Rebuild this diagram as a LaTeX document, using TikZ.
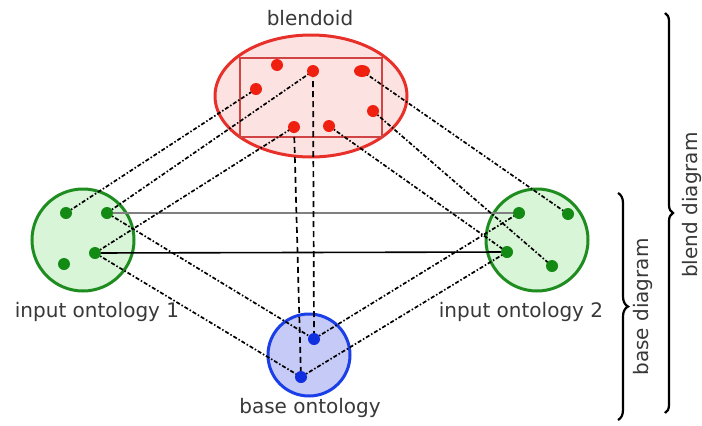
\documentclass[tikz,border=0pt]{standalone}
\usepackage{fontspec}
\setmainfont{DejaVu Sans}
\usetikzlibrary{decorations.pathreplacing,shapes.geometric}
\pgfdeclarelayer{back}
\pgfdeclarelayer{mid}
\pgfsetlayers{back,mid,main}
\definecolor{redline}{HTML}{E8302A}
\definecolor{redfill}{HTML}{FDE2E2}
\definecolor{reddot}{HTML}{F02010}
\definecolor{rectline}{HTML}{D04444}
\definecolor{greenline}{HTML}{1E8C1E}
\definecolor{greenfill}{HTML}{D8F5D8}
\definecolor{greendot}{HTML}{138A13}
\definecolor{blueline}{HTML}{1A3EE8}
\definecolor{bluefill}{HTML}{C6CAF6}
\definecolor{bluedot}{HTML}{1030E0}
\definecolor{txt}{HTML}{383838}
\begin{document}
\begin{tikzpicture}[x=1pt,y=-1pt,
  lbl/.style={text=txt,font=\fontsize{20}{24}\selectfont,inner sep=0pt},
  dotnode/.style={circle,inner sep=0pt,minimum size=12pt},
  rdot/.style={dotnode,fill=reddot},
  gdot/.style={dotnode,fill=greendot},
  bdot/.style={dotnode,fill=bluedot},
  link/.style={line width=1.7pt,dash pattern=on 4pt off 2pt on 1.5pt off 2pt},
  vlink/.style={line width=1.7pt,dash pattern=on 6pt off 4pt},
  bracestyle/.style={line width=2.2pt,decorate}]
\useasboundingbox (0,0) rectangle (702,426);
\begin{pgfonlayer}{back}
% blendoid
\draw[redline,fill=redfill,line width=3pt] (311,96) ellipse [x radius=96,y radius=61];
\draw[rectline,line width=1.2pt] (240,58) rectangle (382,137);
% input 1
\draw[greenline,fill=greenfill,line width=3pt] (83,240) circle [radius=51];
% input 2
\draw[greenline,fill=greenfill,line width=3pt] (537,240) circle [radius=51];
% base
\draw[blueline,fill=bluefill,line width=3pt] (309,355) circle [radius=41];
\end{pgfonlayer}
\node[lbl] (tblend) at (310,18) {blendoid};
\node[lbl] (tin1) at (97,312) {input ontology 1};
\node[lbl] (tin2) at (521,312) {input ontology 2};
\node[lbl] (tbase) at (310,408) {base ontology};
% red dots
\node[rdot] (r1) at (277,65) {};
\node[rdot] (r2) at (313,71) {};
\node[ellipse,inner sep=0pt,minimum width=16pt,minimum height=12pt,fill=reddot] (r3) at (362,71) {};
\node[rdot] (r4) at (256,89) {};
\node[rdot] (r5) at (373,111) {};
\node[rdot] (r6) at (294,127) {};
\node[rdot] (r7) at (329,126) {};
% green dots input 1
\node[gdot] (a1) at (66,213) {};
\node[gdot] (a2) at (107,213) {};
\node[gdot] (a3) at (95,253) {};
\node[gdot] (a4) at (64,264) {};
% green dots input 2
\node[gdot] (b1) at (519,213) {};
\node[gdot] (b2) at (568,214) {};
\node[gdot] (b3) at (507,252) {};
\node[gdot] (b4) at (552,266) {};
% blue dots
\node[bdot] (c1) at (314,339) {};
\node[bdot] (c2) at (301,377) {};
\begin{pgfonlayer}{mid}
% solid lines
\draw[gray,line width=1.1pt] (a2.center) -- (b1.center);
\draw[black,line width=1.6pt] (a3.center) -- (b3.center);
% blendoid to inputs
\draw[link] (a1.center) -- (r4.center);
\draw[link] (a2.center) -- (r2.center);
\draw[link] (a3.center) -- (r6.center);
\draw[link] (r3.center) -- (b2.center);
\draw[link] (r5.center) -- (b4.center);
\draw[link] (r7.center) -- (b3.center);
% blendoid to base
\draw[vlink] (r2.center) -- (c1.center);
\draw[vlink] (r6.center) -- (c2.center);
% base to inputs
\draw[link] (a2.center) -- (c1.center);
\draw[link] (a3.center) -- (c2.center);
\draw[link] (c1.center) -- (b1.center);
\draw[link] (c2.center) -- (b3.center);
\end{pgfonlayer}
% braces
\draw[bracestyle,decoration={brace,amplitude=10pt}] (618,193) coordinate (i1) -- (618,420) coordinate (i2);
\node[lbl,rotate=90] (tbd) at (643,307) {base diagram};
\draw[bracestyle,decoration={brace,amplitude=8pt}] (665,13) coordinate (o1) -- (665,413) coordinate (o2);
\node[lbl,rotate=90] (tbld) at (692,205) {blend diagram};
\end{tikzpicture}
\end{document}
